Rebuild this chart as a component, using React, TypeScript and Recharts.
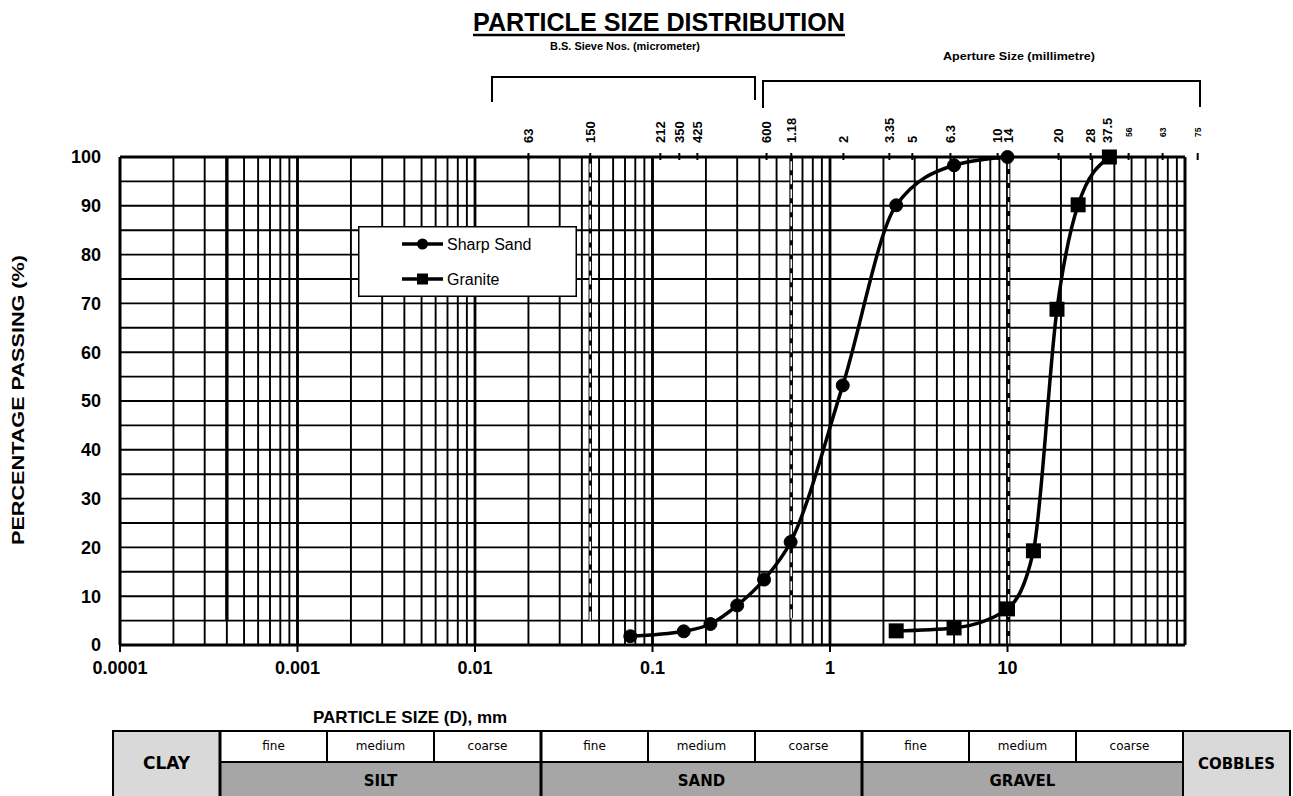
import React from 'react';
import { LineChart, Line, XAxis, YAxis, CartesianGrid, ReferenceLine, Legend } from 'recharts';

const FONT = '"Liberation Sans", Arial, Helvetica, sans-serif';
const TABLE_FONT = '"DejaVu Sans", "Liberation Sans", sans-serif';

// sieve size (mm) vs percentage passing
const sandSize = [0.075, 0.15, 0.212, 0.3, 0.425, 0.6, 1.18, 2.36, 5, 10];
const sandPassing = [1.8, 2.8, 4.3, 8.1, 13.4, 21.1, 53.2, 90.1, 98.3, 100];

const graniteSize = [2.36, 5, 10, 14, 19, 25, 37.5];
const granitePassing = [2.9, 3.5, 7.4, 19.3, 68.8, 90.2, 100];

const seriesNames = ['Sharp Sand', 'Granite'];

// bottom axis (log scale)
const decades = [0.0001, 0.001, 0.01, 0.1, 1, 10];
const xTickLabels = ['0.0001', '0.001', '0.01', '0.1', '1', '10'];
const gridMultipliers = [1, 2, 3, 4, 5, 6, 7, 8, 9];
const yTicks = [0, 5, 10, 15, 20, 25, 30, 35, 40, 45, 50, 55, 60, 65, 70, 75, 80, 85, 90, 95, 100];

// sieve labels along the top edge and where they sit on the lower scale
const topTickLabels = ['63', '150', '212', '350', '425', '600', '1.18', '2', '3.35', '5', '6.3', '10', '14', '20', '28', '37.5', '56', '63', '75'];
const topTickPos = [0.02, 0.0446, 0.1107, 0.1416, 0.179, 0.439, 0.605, 1.19, 2.16, 2.91, 4.77, 8.8, 10.15, 19.4, 29.4, 36.6, 48.1, 74.8, 117.9];

// vertical marker lines
const dashedAt = [0.0446, 0.605, 10.15];
const dashedFrom = [5, 5.5, 0];
const solidAt = 0.0004;
const solidFrom = 5;

// soil classification strip
const soilGroups = ['SILT', 'SAND', 'GRAVEL'];
const subClasses = ['fine', 'medium', 'coarse'];

const sandData = sandSize.map((s, i) => ({ size: s, pass: sandPassing[i] }));
const graniteData = graniteSize.map((s, i) => ({ size: s, pass: granitePassing[i] }));
const xGridTicks = [
  ...decades.flatMap((d) => gridMultipliers.map((m) => Number((d * m).toPrecision(6)))),
  100,
];

const W = 1293;
const H = 796;

const BottomTick = (props: any) => {
  const { x, y, payload } = props;
  const i = decades.indexOf(payload.value);
  if (i < 0) return <g />;
  return (
    <g>
      <line x1={x} x2={x} y1={y} y2={y + 7} stroke="#000" strokeWidth={2} />
      <text x={x} y={y + 29} textAnchor="middle" fontFamily={FONT} fontWeight="bold" fontSize={18} fill="#000">
        {xTickLabels[i]}
      </text>
    </g>
  );
};

const TopTick = (props: any) => {
  const { x, y, payload } = props;
  const i = topTickPos.indexOf(payload.value);
  if (i < 0) return <g />;
  const small = i >= 16;
  const fs = small ? 8.5 : 13;
  return (
    <g>
      <line x1={x} x2={x} y1={y - 4} y2={y + 3} stroke="#000" strokeWidth={2} />
      <text
        transform={`translate(${x + fs * 0.36},${y - (small ? 20 : 14)}) rotate(-90)`}
        fontFamily={FONT}
        fontWeight="bold"
        fontSize={fs}
        fill="#000"
      >
        {topTickLabels[i]}
      </text>
    </g>
  );
};

const SquareDot = (props: any) => {
  const { cx, cy, index } = props;
  if (cx == null || cy == null) return <g key={`sq-${index}`} />;
  return <rect key={`sq-${index}`} x={cx - 7.5} y={cy - 7.5} width={15} height={15} fill="#000" />;
};

const LegendBox = () => (
  <svg width={219} height={71} style={{ display: 'block' }}>
    <rect x={0.75} y={0.75} width={217.5} height={69.5} fill="#fff" stroke="#000" strokeWidth={1.5} />
    {seriesNames.map((name, i) => {
      const cy = 18 + i * 35;
      return (
        <g key={name}>
          <line x1={44} x2={85} y1={cy} y2={cy} stroke="#000" strokeWidth={3.5} />
          {i === 0 ? (
            <circle cx={64.5} cy={cy} r={5.5} fill="#000" />
          ) : (
            <rect x={59} y={cy - 5.5} width={11} height={11} fill="#000" />
          )}
          <text x={89} y={cy + 5.5} fontSize={16} fontFamily={FONT} fill="#000">
            {name}
          </text>
        </g>
      );
    })}
  </svg>
);

// classification table under the chart
function SoilTable() {
  const left = 113;
  const colW = 107;
  const top = 731;
  const mid = 762;
  const bottom = 800;
  const cells: React.ReactNode[] = [];
  const ends = [
    { label: 'CLAY', x: left },
    { label: 'COBBLES', x: left + colW * 10 },
  ];
  ends.forEach((e) => {
    cells.push(
      <g key={e.label}>
        <rect x={e.x} y={top} width={colW} height={bottom - top} fill="#d9d9d9" stroke="#000" strokeWidth={2} />
        <text x={e.x + colW / 2} y={top + 38} textAnchor="middle" fontFamily={TABLE_FONT} fontWeight="bold" fontSize={e.label === 'CLAY' ? 17 : 15}>
          {e.label}
        </text>
      </g>
    );
  });
  soilGroups.forEach((g, gi) => {
    const gx = left + colW * (1 + gi * 3);
    cells.push(
      <g key={g}>
        <rect x={gx} y={mid} width={colW * 3} height={bottom - mid} fill="#a6a6a6" stroke="#000" strokeWidth={2} />
        <text x={gx + colW * 1.5} y={mid + 24} textAnchor="middle" fontFamily={TABLE_FONT} fontWeight="bold" fontSize={15}>
          {g}
        </text>
        {subClasses.map((s, si) => (
          <g key={s}>
            <rect x={gx + si * colW} y={top} width={colW} height={mid - top} fill="#fff" stroke="#000" strokeWidth={2} />
            <text x={gx + si * colW + colW / 2} y={top + 19} textAnchor="middle" fontFamily={TABLE_FONT} fontSize={12}>
              {s}
            </text>
          </g>
        ))}
        <line x1={gx} x2={gx} y1={top} y2={bottom} stroke="#000" strokeWidth={3} />
      </g>
    );
  });
  return <g>{cells}</g>;
}

export default function App() {
  return (
    <div style={{ position: 'absolute', left: 0, top: 0, width: W, height: H, background: '#fff', overflow: 'hidden' }}>
      <LineChart width={W} height={H} margin={{ top: 127, right: 108, bottom: 121, left: 60 }}>
        <CartesianGrid stroke="#000" strokeWidth={1.9} />
        <XAxis
          dataKey="size"
          type="number"
          scale="log"
          domain={[0.0001, 100]}
          allowDataOverflow
          ticks={xGridTicks}
          interval={0}
          height={30}
          tickSize={0}
          tickMargin={0}
          tickLine={false}
          axisLine={{ stroke: '#000', strokeWidth: 3 }}
          tick={<BottomTick />}
        />
        <XAxis
          xAxisId="top"
          orientation="top"
          dataKey="size"
          type="number"
          scale="log"
          domain={[0.0001, 100]}
          allowDataOverflow
          ticks={topTickPos}
          interval={0}
          height={30}
          tickSize={0}
          tickMargin={0}
          tickLine={false}
          axisLine={{ stroke: '#000', strokeWidth: 3 }}
          tick={<TopTick />}
        />
        <YAxis
          type="number"
          domain={[0, 100]}
          ticks={yTicks}
          interval={0}
          width={60}
          tickSize={0}
          tickMargin={19}
          tickLine={false}
          axisLine={{ stroke: '#000', strokeWidth: 3 }}
          tickFormatter={(v: number) => (v % 10 === 0 ? String(v) : '')}
          tick={{ fill: '#000', fontFamily: FONT, fontWeight: 'bold', fontSize: 18 }}
        />
        {decades.slice(1).map((d) => (
          <ReferenceLine key={d} x={d} stroke="#000" strokeWidth={2.8} />
        ))}
        <ReferenceLine x={100} stroke="#000" strokeWidth={3} />
        <Line
          data={[{ size: solidAt, pass: solidFrom }, { size: solidAt, pass: 100 }]}
          dataKey="pass"
          type="linear"
          stroke="#000"
          strokeWidth={3.4}
          dot={false}
          legendType="none"
          isAnimationActive={false}
        />
        {dashedAt.map((x, i) => (
          <Line
            key={`db-${i}`}
            data={[{ size: x, pass: dashedFrom[i] }, { size: x, pass: 100 }]}
            dataKey="pass"
            type="linear"
            stroke="#000"
            strokeWidth={3.4}
            dot={false}
            legendType="none"
            isAnimationActive={false}
          />
        ))}
        {dashedAt.map((x, i) => (
          <Line
            key={`dw-${i}`}
            data={[{ size: x, pass: dashedFrom[i] }, { size: x, pass: 100 }]}
            dataKey="pass"
            type="linear"
            stroke="#fff"
            strokeWidth={1.6}
            strokeDasharray="9 5"
            dot={false}
            legendType="none"
            isAnimationActive={false}
          />
        ))}
        <Line
          name={seriesNames[0]}
          data={sandData}
          dataKey="pass"
          type="monotone"
          stroke="#000"
          strokeWidth={3.5}
          dot={{ r: 6.5, fill: '#000', stroke: '#000', strokeWidth: 1 }}
          isAnimationActive={false}
        />
        <Line
          name={seriesNames[1]}
          data={graniteData}
          dataKey="pass"
          type="monotone"
          stroke="#000"
          strokeWidth={3.5}
          dot={<SquareDot />}
          isAnimationActive={false}
        />
        <Legend
          layout="horizontal"
          verticalAlign="middle"
          align="center"
          content={() => <LegendBox />}
          wrapperStyle={{ left: 358, top: 226, width: 219, height: 71 }}
        />
      </LineChart>

      <svg width={W} height={H} style={{ position: 'absolute', left: 0, top: 0, pointerEvents: 'none' }}>
        <text x={659} y={31} textAnchor="middle" fontFamily={FONT} fontWeight="bold" fontSize={26} textLength={372} lengthAdjust="spacingAndGlyphs">
          PARTICLE SIZE DISTRIBUTION
        </text>
        <line x1={473} x2={845} y1={35} y2={35} stroke="#000" strokeWidth={2.5} />
        <text x={625} y={50} textAnchor="middle" fontFamily={FONT} fontWeight="bold" fontSize={11} textLength={150} lengthAdjust="spacingAndGlyphs">
          B.S. Sieve Nos. (micrometer)
        </text>
        <text x={1019} y={60} textAnchor="middle" fontFamily={FONT} fontWeight="bold" fontSize={11} textLength={152} lengthAdjust="spacingAndGlyphs">
          Aperture Size (millimetre)
        </text>
        <path d="M492,102 V77 H755 V100" fill="none" stroke="#000" strokeWidth={2} />
        <path d="M763,108 V81 H1200 V107" fill="none" stroke="#000" strokeWidth={2} />
        <text
          transform="translate(24,400) rotate(-90)"
          textAnchor="middle"
          fontFamily={FONT}
          fontWeight="bold"
          fontSize={17}
          textLength={290}
          lengthAdjust="spacingAndGlyphs"
        >
          PERCENTAGE PASSING (%)
        </text>
        <text x={410} y={723} textAnchor="middle" fontFamily={FONT} fontWeight="bold" fontSize={17}>
          PARTICLE SIZE (D), mm
        </text>
        <SoilTable />
      </svg>
    </div>
  );
}
